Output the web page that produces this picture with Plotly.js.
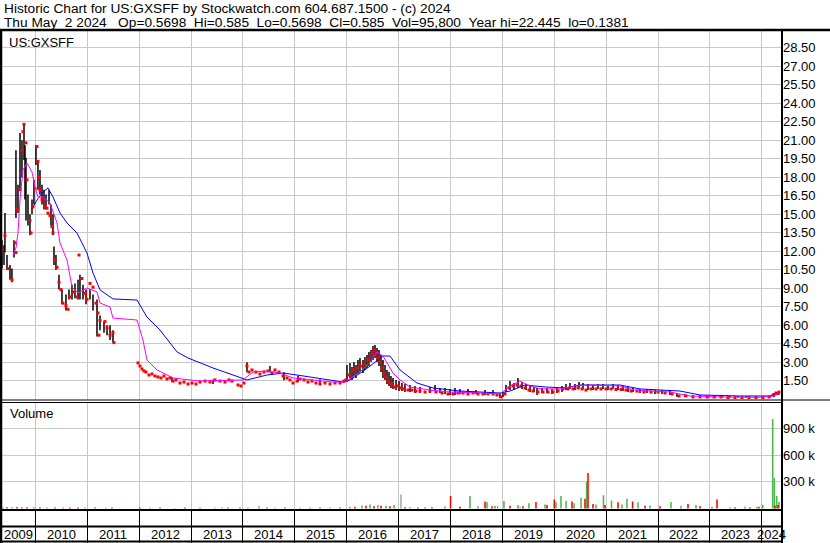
<!DOCTYPE html>
<html><head><meta charset="utf-8">
<script src="https://cdn.plot.ly/plotly-3.0.1.min.js"></script>
<style>html,body{margin:0;padding:0;background:#fff;overflow:hidden}#chart{width:830px;height:543px}</style>
</head><body><div id="chart"></div>
<script>
// ---- Data (decimal years, prices in $, volume in shares) ----
const barT = [2009.355,2009.393,2009.412,2009.451,2009.509,2009.547,2009.586,2009.624,2009.663,2009.702,2009.740,2009.779,2009.798,2009.817,2009.856,2009.894,2009.933,2009.971,2010.010,2010.048,2010.087,2010.126,2010.164,2010.203,2010.261,2010.299,2010.338,2010.357,2010.395,2010.453,2010.511,2010.588,2010.646,2010.704,2010.762,2010.820,2010.858,2010.916,2010.974,2011.051,2011.109,2011.186,2011.244,2011.321,2011.379,2011.437,2011.494,
 2012.631,2013.422,2014.077,2014.520,2014.790,2015.060,2015.484,
 2016.004,2016.062,2016.101,2016.139,2016.178,2016.216,2016.255,2016.313,2016.351,2016.390,2016.428,2016.467,2016.506,2016.544,2016.583,2016.621,2016.660,2016.698,2016.737,2016.775,2016.814,2016.852,2016.891,2016.949,2017.007,2017.064,2017.122,2017.219,2017.315,2017.412,2017.604,2017.701,2017.797,2017.894,2017.990,2018.086,
 2018.183,2018.337,2018.491,2018.665,2018.818,2018.953,2019.011,2019.069,2019.146,2019.223,2019.300,2019.378,2019.455,2019.532,2019.609,2019.667,2019.763,2019.859,2019.956,2020.052,2020.149,2020.226,2020.303,2020.399,2020.476,2020.553,2020.649,2020.746,2020.842,2020.939,2021.035,2021.132,2021.228,2021.324,2021.421,2021.517,2021.652,2021.787,2021.941,2022.076,2022.230,2022.365,2022.519,2022.673,2022.809,2022.963,2023.097,2023.233,2023.386,2023.541,2023.695,2023.849,2024.003,2024.158,2024.235,2024.293,2024.331];
const barHi = [12.9,12.5,15.1,11.7,10.9,10.6,12.9,20.2,17.4,21.6,21.0,22.4,20.6,19.6,16.6,15.0,16.2,17.8,20.6,19.4,18.6,17.4,17.0,16.6,17.0,15.8,15.0,12.4,11.7,10.1,8.9,8.5,8.9,9.3,9.4,9.7,10.1,9.3,8.9,8.9,8.5,8.1,6.8,6.3,6.0,6.0,5.6,
 1.8,1.6,3.0,2.7,2.2,1.9,1.6,
 2.79,2.94,2.62,3.03,2.79,3.19,3.35,3.19,3.43,3.59,3.84,4.00,4.32,4.40,4.16,4.00,3.59,3.19,2.79,2.38,2.21,1.89,1.73,1.57,1.48,1.32,1.24,1.16,1.08,1.00,1.00,1.16,0.92,0.92,0.84,0.92,
 0.84,0.84,0.75,0.75,0.75,0.51,0.59,1.16,1.48,1.32,1.73,1.40,1.24,1.08,1.00,0.92,0.92,0.92,0.84,0.92,1.08,1.24,1.32,1.24,1.40,1.32,1.24,1.16,1.24,1.24,1.16,1.24,1.16,1.08,1.00,0.92,0.84,0.84,0.75,0.75,0.67,0.51,0.43,0.35,0.35,0.27,0.27,0.27,0.27,0.27,0.27,0.19,0.19,0.27,0.51,0.59,0.585];
const barLo = [10.6,10.9,11.9,10.5,9.7,9.5,11.5,14.7,15.1,17.0,18.0,19.4,16.2,14.5,14.1,13.3,15.0,15.8,19.0,17.0,16.6,15.8,15.4,15.4,15.8,14.1,13.3,10.9,10.5,8.9,7.7,7.2,8.1,8.1,8.2,8.1,8.1,8.1,7.7,8.1,7.2,5.1,5.6,5.4,5.2,4.8,4.6,
 1.4,1.25,2.2,2.2,1.55,1.4,1.2,
 1.40,1.73,1.57,1.89,1.73,2.05,2.21,2.13,2.38,2.54,2.70,3.03,3.19,3.35,3.03,2.70,2.21,1.73,1.57,1.24,1.08,0.92,0.84,0.75,0.67,0.67,0.59,0.59,0.51,0.51,0.51,0.67,0.51,0.43,0.35,0.35,
 0.43,0.43,0.43,0.35,0.35,0.11,0.19,0.59,0.75,0.75,0.92,0.84,0.75,0.59,0.59,0.35,0.51,0.51,0.43,0.51,0.59,0.75,0.84,0.75,0.92,0.84,0.75,0.75,0.84,0.84,0.75,0.84,0.75,0.67,0.59,0.59,0.51,0.51,0.43,0.43,0.35,0.19,0.19,0.11,0.11,0.11,0.11,0.14,0.14,0.14,0.14,0.14,0.14,0.14,0.19,0.35,0.43];

// down-day closes (red marks)
const downT = [2009.355,2009.412,2009.470,2009.547,2009.605,2009.624,2009.644,2009.702,2009.740,2009.759,2009.779,2009.817,2009.836,2009.894,2009.914,2009.952,2009.991,2010.029,2010.048,2010.068,2010.087,2010.126,2010.183,2010.222,2010.241,2010.280,2010.318,2010.338,2010.376,2010.415,2010.453,2010.492,2010.530,2010.588,2010.627,2010.665,2010.742,2010.800,2010.839,2010.896,2010.954,2010.993,2011.051,2011.109,2011.166,2011.205,2011.224,2011.244,2011.340,2011.379,2011.437,2011.494,2011.513,
 2011.976,2012.015,2012.053,2012.092,2012.130,2012.188,2012.246,2012.304,2012.361,2012.419,2012.477,2012.535,2012.593,2012.651,2012.708,2012.786,2012.863,2012.940,2013.017,2013.094,2013.171,2013.268,2013.364,2013.460,2013.557,2013.653,2013.730,2013.788,2013.904,2013.961,2014.019,2014.077,2014.115,2014.173,2014.250,2014.327,2014.404,2014.482,2014.559,2014.617,2014.694,2014.771,2014.848,2014.906,2014.964,2015.041,2015.099,2015.176,2015.253,2015.330,2015.407,2015.484,2015.580,2015.677,2015.773,2015.870,2015.947,
 2015.985,2016.043,2016.120,2016.197,2016.274,2016.332,2016.409,2016.486,2016.525,2016.563,2016.602,2016.641,2016.679,2016.718,2016.756,2016.795,2016.833,2016.872,2016.930,2016.987,2017.045,2017.103,2017.180,2017.257,2017.334,2017.412,2017.508,2017.604,2017.720,2017.836,2017.951,2018.048,
 2018.144,2018.240,2018.337,2018.433,2018.530,2018.626,2018.722,2018.819,2018.896,2018.973,2019.050,2019.127,2019.204,2019.281,2019.358,2019.435,2019.512,2019.589,2019.686,2019.783,2019.879,2019.975,2020.072,2020.168,2020.264,2020.361,2020.457,2020.534,2020.611,2020.707,2020.804,2020.900,2020.997,2021.093,2021.189,2021.286,2021.382,2021.478,2021.594,2021.729,2021.864,2021.999,2022.134,2022.269,2022.404,2022.538,2022.673,2022.809,2022.943,2023.078,2023.213,2023.348,2023.483,2023.618,2023.753,2023.888,2024.023,2024.138,2024.216,2024.273,2024.331];
const downClose = [12.1,13.3,10.6,9.7,12.7,11.9,15.4,17.0,20.2,21.7,22.3,20.8,17.8,14.5,13.5,15.6,17.1,20.5,19.3,18.0,17.0,16.2,15.7,15.5,15.1,14.9,14.0,13.5,11.3,10.7,9.5,8.9,7.8,7.6,7.3,8.3,8.7,8.3,11.7,9.8,8.6,8.1,9.4,9.1,7.8,7.0,5.2,6.4,6.3,5.8,5.2,5.4,4.6,
 2.95,2.70,2.46,2.30,2.21,1.97,2.05,1.89,1.81,1.73,1.89,1.65,1.73,1.48,1.57,1.32,1.40,1.24,1.32,1.24,1.40,1.48,1.40,1.57,1.48,1.40,1.57,1.48,1.16,1.08,1.32,2.70,2.21,2.38,2.21,2.05,2.21,2.30,2.13,2.38,2.21,1.89,1.73,1.57,1.32,1.48,1.65,1.57,1.40,1.48,1.32,1.24,1.32,1.24,1.32,1.32,1.48,
 1.57,1.97,2.38,2.54,2.70,2.86,3.19,3.67,4.00,3.75,3.35,3.03,2.54,2.13,1.81,1.48,1.32,1.16,1.00,1.08,0.92,0.84,0.75,0.75,0.67,0.67,0.59,0.67,0.59,0.51,0.43,0.43,
 0.51,0.51,0.43,0.51,0.43,0.43,0.43,0.43,0.35,0.19,0.43,0.92,1.08,1.16,1.08,0.92,0.75,0.67,0.59,0.59,0.59,0.59,0.67,0.84,0.84,0.84,0.92,0.84,0.75,0.84,0.84,0.84,0.84,0.84,0.80,0.80,0.75,0.67,0.67,0.59,0.59,0.59,0.51,0.43,0.27,0.27,0.19,0.19,0.19,0.19,0.19,0.14,0.14,0.14,0.14,0.14,0.14,0.19,0.35,0.51,0.585];

// moving averages
const maShortT = [2009.567,2009.624,2009.663,2009.702,2009.759,2009.836,2009.933,2009.991,2010.048,2010.145,2010.280,2010.415,2010.473,2010.607,2010.704,2010.820,2010.993,2011.186,2011.244,2011.437,2011.494,2011.957,2012.015,2012.072,2012.149,2012.342,2012.651,2013.171,2013.999,2014.192,2014.462,2014.713,2014.964,2015.735,2015.966,2016.255,2016.448,2016.583,2016.698,2016.891,2017.026,2017.219,2017.604,2017.990,2018.568,2018.953,2019.146,2019.339,2019.532,2019.725,2020.110,2020.399,2020.688,2021.267,2021.556,2022.230,2022.616,2023.194,2023.965,2024.216,2024.351];
const maShort = [11.70,12.27,13.49,16.17,18.60,19.17,18.44,17.23,16.41,16.41,15.92,14.30,12.68,11.30,9.12,8.62,9.03,8.71,7.81,7.49,6.59,6.43,5.62,4.81,3.19,2.38,1.73,1.48,1.57,2.21,2.30,2.13,1.73,1.40,1.40,2.21,3.03,3.84,3.51,2.13,1.57,1.00,0.75,0.59,0.51,0.43,1.08,1.48,1.08,0.84,0.84,1.08,1.16,1.08,0.75,0.59,0.27,0.19,0.16,0.27,0.51];
const maLongT = [2009.952,2010.029,2010.145,2010.241,2010.338,2010.473,2010.607,2010.800,2010.993,2011.109,2011.244,2011.494,2011.957,2012.149,2012.400,2012.651,2012.728,2012.940,2013.036,2013.422,2013.807,2014.077,2014.462,2014.771,2015.041,2015.426,2015.927,2016.062,2016.351,2016.698,2016.833,2017.026,2017.354,2017.662,2018.183,2018.953,2019.146,2019.435,2019.821,2020.206,2020.496,2021.267,2021.652,2022.423,2022.809,2023.579,2024.158,2024.351];
const maLong = [15.57,16.16,16.81,17.14,16.41,15.11,14.30,13.49,11.87,10.24,8.87,8.14,8.05,6.67,5.62,4.24,3.84,3.35,3.19,2.54,1.97,1.57,1.97,2.13,1.97,1.73,1.40,1.57,2.38,3.51,3.51,2.38,1.32,0.92,0.67,0.51,0.67,1.16,1.00,0.92,1.16,1.16,0.84,0.67,0.35,0.27,0.27,0.43];

// volume
const volUpT = [2009.374,2009.547,2009.740,2009.971,2010.222,2010.530,2010.954,2011.359,2012.207,2012.689,2013.460,2013.595,2014.096,2014.308,2014.617,2015.099,2015.677,2016.062,2016.293,2016.448,2016.602,2016.756,2016.911,2017.219,2017.508,2017.894,2018.375,2018.530,2018.703,2018.857,2019.030,2019.300,2019.512,2019.821,2020.033,2020.129,2020.226,2020.380,2020.515,2020.623,2020.804,2020.948,2021.103,2021.305,2021.401,2021.613,2021.844,2022.249,2022.442,2022.731,2023.040,2023.386,2023.676,2023.907,2024.017,2024.210,2024.241,2024.287,2024.331];
const volUp = [12000,15000,18000,14000,12000,10000,10000,8000,8000,6000,8000,10000,12000,25000,8000,8000,10000,20000,35000,45000,40000,30000,38000,15000,18000,22000,140000,25000,73000,30000,85000,40000,60000,45000,70000,140000,85000,60000,120000,300000,45000,150000,90000,45000,110000,70000,35000,73000,30000,40000,20000,15000,20000,20000,42000,1007000,342000,142000,73000];
const volDownT = [2009.335,2009.451,2009.644,2009.836,2010.087,2010.376,2010.665,2010.820,2011.147,2011.475,2012.015,2012.400,2012.882,2013.171,2013.711,2013.942,2014.462,2014.809,2015.291,2015.484,2015.870,2016.158,2016.370,2016.525,2016.660,2016.833,2017.122,2017.373,2017.643,2018.000,2018.183,2018.665,2018.799,2019.146,2019.396,2019.647,2019.859,2020.000,2020.341,2020.592,2020.650,2020.746,2020.977,2021.228,2021.509,2021.749,2022.038,2022.577,2022.809,2023.136,2023.483,2023.772,2023.945,2024.254,2024.312];
const volDown = [15000,14000,16000,15000,13000,12000,12000,10000,10000,10000,12000,10000,10000,8000,10000,12000,10000,10000,8000,10000,10000,20000,30000,25000,30000,25000,15000,12000,15000,142000,20000,80000,25000,30000,25000,73000,40000,100000,80000,110000,399000,50000,40000,70000,80000,30000,25000,50000,25000,100000,15000,15000,20000,35000,40000];
const volFlatT = [2017.045,2018.907,2019.339];
const volFlat = [157000,30000,20000];

const yearLabels = ['2009','2010','2011','2012','2013','2014','2015','2016','2017','2018','2019','2020','2021','2022','2023','2024'];
const priceTicks = [1.5,3,4.5,6,7.5,9,10.5,12,13.5,15,16.5,18,19.5,21,22.5,24,25.5,27,28.5];
const volTicks = [300000,600000,900000];
const volTickText = ['300 k','600 k','900 k'];
const headerLine1 = 'Historic Chart for US:GXSFF by Stockwatch.com 604.687.1500 - (c) 2024';
const headerLine2 = 'Thu May  2 2024   Op=0.5698  Hi=0.585  Lo=0.5698  Cl=0.585  Vol=95,800  Year hi=22.445  lo=0.1381';

// ---- Layout helpers (pixel geometry) ----
const W = 830, H = 543, ML = 2, MR = 48, MT = 31, MB = 33;
const PW = W - ML - MR, PH = H - MT - MB;
const px = p => (p - ML) / PW;
const py = p => (H - MB - p) / PH;
const xRange = [2009.355, 2024.389];
const FONT = 'Liberation Sans, Arial, sans-serif';
const GRID = '#c8c8c8';

// hi-lo segments
const segX = [], segY = [];
barT.forEach((t, i) => { segX.push(t, t, null); segY.push(barHi[i], barLo[i], null); });

const traces = [
  {x: segX, y: segY, mode: 'lines', line: {color: '#000', width: 1.5}, xaxis: 'x', yaxis: 'y', hoverinfo: 'skip', connectgaps: false},
  {x: downT, y: downClose, mode: 'markers', marker: {symbol: 'square', size: 3, color: '#ff0000', line: {width: 0}}, xaxis: 'x', yaxis: 'y'},
  {x: maLongT, y: maLong, mode: 'lines', line: {color: '#0000ff', width: 1}, xaxis: 'x', yaxis: 'y'},
  {x: maShortT, y: maShort, mode: 'lines', line: {color: '#ff00ff', width: 1}, xaxis: 'x', yaxis: 'y'},
  {type: 'bar', x: volUpT, y: volUp, width: 0.03, marker: {color: '#4cb84c', line: {width: 0}}, xaxis: 'x2', yaxis: 'y2'},
  {type: 'bar', x: volDownT, y: volDown, width: 0.03, marker: {color: '#ff0000', line: {width: 0}}, xaxis: 'x2', yaxis: 'y2'},
  {type: 'bar', x: volFlatT, y: volFlat, width: 0.03, marker: {color: '#a8a8a8', line: {width: 0}}, xaxis: 'x2', yaxis: 'y2'}
];

const yearVals = yearLabels.map(Number);
const gridYears = yearVals.filter(v => v > xRange[0] && v < xRange[1]);

const line = (x0, y0, x1, y1, w) => ({type: 'line', xref: 'paper', yref: 'paper', x0: px(x0), y0: py(y0), x1: px(x1), y1: py(y1), line: {color: '#000', width: w}});
const shapes = [
  line(0, 30, 830, 30, 2.5),
  line(1, 29, 1, 543, 2.5),
  line(782, 29, 782, 543, 2),
  line(0, 400, 830, 400, 1),
  line(0, 402.5, 782, 402.5, 1),
  line(0, 510, 782, 510, 2),
  line(0, 526.5, 782, 526.5, 2),
  line(0, 541.5, 782, 541.5, 2)
];

const annotations = [
  {text: headerLine1.replace(/ /g, '\u00a0'), xref: 'paper', yref: 'paper', x: px(2), y: py(9), xanchor: 'left', yanchor: 'middle', showarrow: false, font: {family: FONT, size: 13.7, color: '#000'}},
  {text: headerLine2.replace(/ /g, '\u00a0'), xref: 'paper', yref: 'paper', x: px(2), y: py(23), xanchor: 'left', yanchor: 'middle', showarrow: false, font: {family: FONT, size: 13.7, color: '#000'}},
  {text: 'US:GXSFF', xref: 'paper', yref: 'paper', x: px(7), y: py(42), xanchor: 'left', yanchor: 'middle', showarrow: false, font: {family: FONT, size: 13, color: '#000'}},
  {text: 'Volume', xref: 'paper', yref: 'paper', x: px(8), y: py(413), xanchor: 'left', yanchor: 'middle', showarrow: false, font: {family: FONT, size: 13, color: '#000'}}
];
yearLabels.forEach((lab, i) => {
  const y0 = Math.max(yearVals[i], xRange[0]);
  const y1 = Math.min(yearVals[i] + 1, xRange[1]);
  annotations.push({text: lab, xref: 'x2', yref: 'paper', x: (y0 + y1) / 2, y: py(534), xanchor: 'center', yanchor: 'middle', showarrow: false, font: {family: FONT, size: 13, color: '#000'}});
});

const layout = {
  width: W, height: H,
  margin: {l: ML, r: MR, t: MT, b: MB, pad: 0},
  paper_bgcolor: '#fff', plot_bgcolor: '#fff',
  showlegend: false,
  barmode: 'overlay',
  font: {family: FONT, size: 13, color: '#000'},
  xaxis: {domain: [0, 1], range: xRange, anchor: 'y', tickvals: gridYears, showticklabels: false, ticks: '', showgrid: true, gridcolor: GRID, gridwidth: 1, zeroline: false, showline: false},
  xaxis2: {domain: [0, 1], range: xRange, matches: 'x', anchor: 'y2', tickvals: gridYears, showticklabels: false, ticks: 'outside', ticklen: 32, tickwidth: 1, tickcolor: '#000', showgrid: true, gridcolor: GRID, gridwidth: 1, zeroline: false, showline: false},
  yaxis: {domain: [py(400), 1], range: [(399.3 - 400) / 12.33, (399.3 - MT) / 12.33], side: 'right', anchor: 'x', tickvals: priceTicks, ticktext: priceTicks.map(v => v.toFixed(2)), ticks: '', showgrid: true, gridcolor: GRID, gridwidth: 1, zeroline: false, showline: false, tickfont: {family: FONT, size: 13, color: '#000'}},
  yaxis2: {domain: [0, py(402.5)], range: [(508.5 - 510) * 11250, (508.5 - 402.5) * 11250], side: 'right', anchor: 'x2', tickvals: volTicks, ticktext: volTickText, ticks: '', showgrid: true, gridcolor: GRID, gridwidth: 1, zeroline: false, showline: false, tickfont: {family: FONT, size: 13, color: '#000'}},
  shapes: shapes,
  annotations: annotations
};

Plotly.newPlot('chart', traces, layout, {staticPlot: true, displayModeBar: false});
</script>
</body></html>
